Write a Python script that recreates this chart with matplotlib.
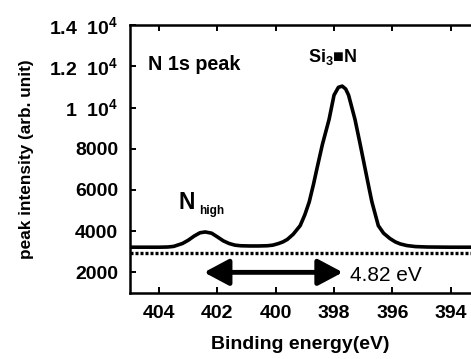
import matplotlib
matplotlib.use("Agg")
import matplotlib.pyplot as plt
from matplotlib.ticker import FixedLocator, FixedFormatter

# ---- data ----
energy = [405.0, 404.5, 404.0, 403.7, 403.5, 403.2, 403.0, 402.8, 402.6, 402.42,
          402.2, 402.0, 401.8, 401.6, 401.4, 401.2, 400.9, 400.6, 400.3, 400.1,
          399.9, 399.75, 399.6, 399.4, 399.16, 399.0, 398.85, 398.7, 398.59, 398.4,
          398.17, 398.0, 397.85, 397.72, 397.6, 397.5, 397.28, 397.1, 396.93, 396.8,
          396.7, 396.48, 396.3, 396.08, 395.9, 395.73, 395.5, 395.2, 394.8, 394.0,
          393.3]
intensity = [3220, 3220, 3220, 3230, 3260, 3400, 3560, 3760, 3920, 3960,
             3900, 3720, 3530, 3400, 3320, 3290, 3280, 3280, 3290, 3320,
             3400, 3480, 3600, 3850, 4270, 4800, 5420, 6300, 7010, 8200,
             9420, 10600, 10980, 11040, 10900, 10600, 9420, 8200, 7010, 6100,
             5420, 4265, 3900, 3640, 3480, 3380, 3300, 3250, 3230, 3220,
             3220]
baseline_level = 2920
arrow_from = 402.46
arrow_to = 397.7
arrow_level = 2000
xticks = [404, 402, 400, 398, 396, 394]
yticks = [2000, 4000, 6000, 8000, 10000, 12000, 14000]
ytick_labels = ["2000", "4000", "6000", "8000", "1  10$^{4}$", "1.2  10$^{4}$", "1.4  10$^{4}$"]

plt.rcParams['font.family'] = ['Liberation Sans', 'DejaVu Sans']
plt.rcParams['mathtext.fontset'] = 'custom'
plt.rcParams['mathtext.rm'] = 'Liberation Sans:bold'
plt.rcParams['mathtext.bf'] = 'Liberation Sans:bold'
plt.rcParams['mathtext.it'] = 'Liberation Sans:bold'
plt.rcParams['mathtext.default'] = 'rm'

fig = plt.figure(figsize=(4.71, 3.59), dpi=100)
ax = fig.add_axes([0.276, 0.184, 0.724, 0.746])

ax.plot(energy, intensity, color='black', lw=2.6, solid_joinstyle='round',
        solid_capstyle='round')
ax.axhline(baseline_level, color='black', lw=2.4, linestyle=(0, (0.9, 0.6)))

ax.annotate('', xy=(arrow_to, arrow_level), xytext=(arrow_from, arrow_level),
            arrowprops=dict(arrowstyle='<|-|>,head_length=1.5,head_width=0.8',
                            mutation_scale=10, lw=3.5, color='black',
                            shrinkA=0, shrinkB=0))
ax.text(397.45, 1860, '4.82 eV', fontsize=15, ha='left', va='center')

ax.text(404.38, 12100, 'N 1s peak', fontsize=14.2, ha='left', va='center', fontweight='bold')
ax.text(398.03, 12450, 'Si$_{3}$■N', fontsize=13, ha='center', va='center', fontweight='bold')
ax.text(403.35, 5400, 'N', fontsize=16.5, ha='left', va='center', fontweight='bold')
ax.text(402.63, 5000, 'high', fontsize=8.5, ha='left', va='center', fontweight='bold')

ax.set_xlim(405, 393.3)
ax.set_ylim(1000, 14000)
ax.xaxis.set_major_locator(FixedLocator(xticks))
ax.yaxis.set_major_locator(FixedLocator(yticks))
ax.yaxis.set_major_formatter(FixedFormatter(ytick_labels))

for s in ['left', 'bottom', 'top']:
    ax.spines[s].set_linewidth(1.8)
ax.spines['right'].set_visible(False)
ax.tick_params(direction='in', length=4, width=1.4, top=True, pad=8.5,
               labelsize=14)
for lab in ax.get_xticklabels() + ax.get_yticklabels():
    lab.set_fontweight('bold')

ax.set_xlabel('Binding energy(eV)', fontsize=14, fontweight='bold', labelpad=10)
ax.set_ylabel('peak intensity (arb. unit)', fontsize=12.4, fontweight='bold', labelpad=11)

fig.savefig('out.png', dpi=100)
